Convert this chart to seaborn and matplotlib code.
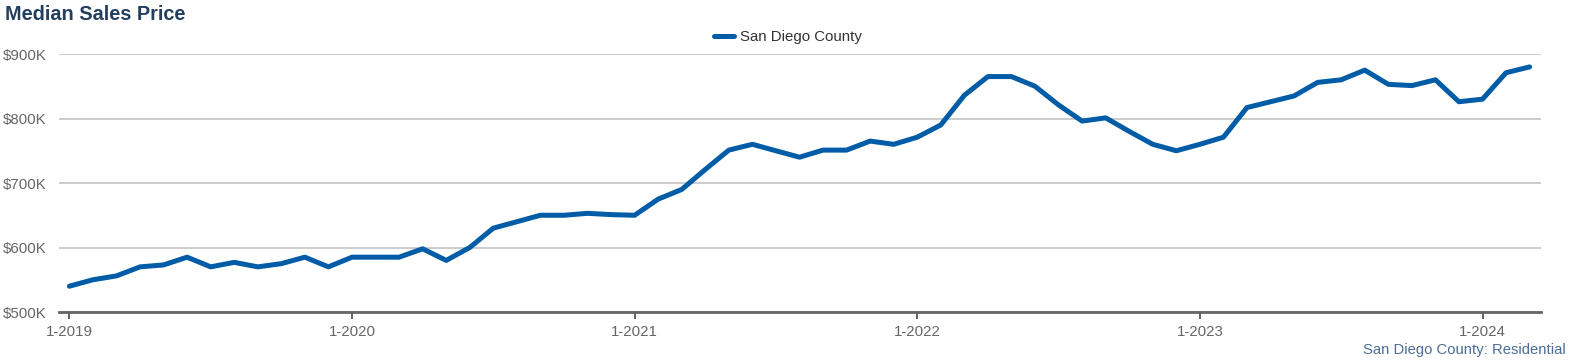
import matplotlib
matplotlib.use("Agg")
import matplotlib.pyplot as plt
import seaborn as sns
import pandas as pd
import numpy as np

# ---- data ----
start_month = "2019-01"
prices_k = [540, 550, 556, 570, 573, 585, 570, 577, 570, 575, 585, 570,
            585, 585, 585, 598, 580, 600, 630, 640, 650, 650, 653, 651,
            650, 675, 690, 721, 751, 760, 750, 740, 751, 751, 765, 760,
            771, 790, 836, 865, 865, 850, 821, 796, 801, 780, 760, 750,
            760, 771, 817, 826, 835, 856, 860, 875, 853, 851, 860, 826,
            830, 871, 880]
series_name = "San Diego County"
y_ticks_k = [500, 600, 700, 800, 900]
y_tick_labels = ["$500K", "$600K", "$700K", "$800K", "$900K"]
x_tick_labels = ["1-2019", "1-2020", "1-2021", "1-2022", "1-2023", "1-2024"]

dates = pd.date_range(start_month, periods=len(prices_k), freq="MS")
df = pd.DataFrame({"idx": np.arange(len(prices_k)), "price": prices_k,
                   "series": series_name, "date": dates})

sns.set_theme(style="white")
plt.rcParams["font.family"] = ["Liberation Sans", "DejaVu Sans"]

fig = plt.figure(figsize=(15.71, 3.61), dpi=100)
ax = fig.add_axes([0.0374, 0.1357, 0.9436, 0.7147])

sns.lineplot(data=df, x="idx", y="price", hue="series", palette=["#005ca6"],
             linewidth=3.6, ax=ax, legend=False)

ax.set_xlim(-0.45, 62.49)
ax.set_ylim(500, 900)
ax.set_yticks(y_ticks_k)
ax.set_yticklabels(y_tick_labels)
jan_idx = df.index[df["date"].dt.month == 1].tolist()
ax.set_xticks(jan_idx)
ax.set_xticklabels(x_tick_labels)
ax.set_xlabel("")
ax.set_ylabel("")

ax.grid(axis="y", color="#cccccc", linewidth=1.4)
ax.grid(axis="x", visible=False)
for s in ["top", "right", "left"]:
    ax.spines[s].set_visible(False)
ax.spines["bottom"].set_color("#666666")
ax.spines["bottom"].set_linewidth(2)
ax.spines["bottom"].set_zorder(5)
ax.tick_params(axis="x", colors="#666666", length=5, width=1.5, labelsize=10.8, pad=4, direction="out", bottom=True)
ax.tick_params(axis="y", colors="#666666", length=0, labelsize=10.8, pad=9)
for t in ax.get_xticklabels() + ax.get_yticklabels():
    t.set_color("#666666")

from matplotlib.lines import Line2D
h = Line2D([], [], color="#005ca6", linewidth=3.6)
fig.legend([h], [series_name], loc="center", bbox_to_anchor=(0.5015, 0.8975),
           frameon=False, fontsize=10.8, handlelength=1.35, handletextpad=0.4,
           labelcolor="#333333")

fig.text(0.003, 0.96, "Median Sales Price", fontsize=14.3, fontweight="bold",
         color="#233f5e", ha="left", va="center")
fig.text(0.9966, 0.031, "San Diego County: Residential", fontsize=10.7,
         color="#4d6d98", ha="right", va="center")

fig.savefig("out.png", dpi=100)
